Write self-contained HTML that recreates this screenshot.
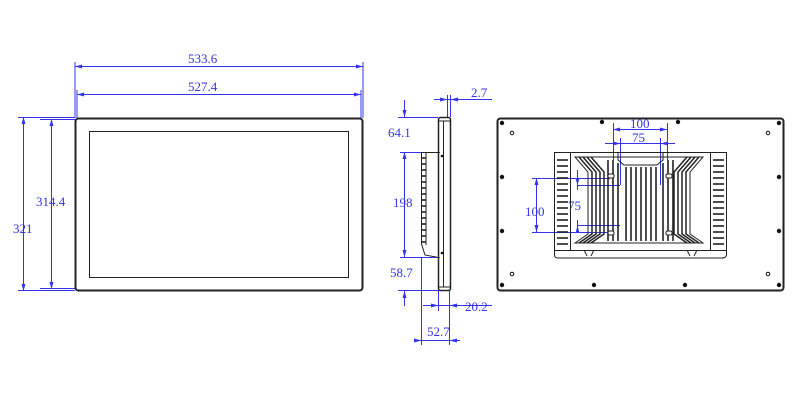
<!DOCTYPE html>
<html><head><style>
html,body{margin:0;padding:0;background:#fff;}
svg{display:block;}
text{font-family:"Liberation Serif",serif;font-size:13px;fill:#3333ee;}
</style></head><body>
<svg width="800" height="400" viewBox="0 0 800 400">
<g stroke="#3333ee" stroke-width="1" fill="none">
<line x1="75" y1="62" x2="75" y2="118"/><line x1="363" y1="62" x2="363" y2="118"/>
<line x1="77" y1="90" x2="77" y2="118"/><line x1="361" y1="90" x2="361" y2="118"/>
<line x1="75" y1="66.5" x2="363" y2="66.5"/>
<line x1="77" y1="94.5" x2="361" y2="94.5"/>
<line x1="18" y1="117.5" x2="75" y2="117.5"/><line x1="18" y1="290.5" x2="75" y2="290.5"/>
<line x1="40" y1="119.5" x2="75" y2="119.5"/><line x1="40" y1="288.5" x2="75" y2="288.5"/>
<line x1="23.5" y1="117" x2="23.5" y2="291"/>
<line x1="51.5" y1="119" x2="51.5" y2="289"/>
<line x1="447.5" y1="95" x2="447.5" y2="117"/><line x1="450.5" y1="95" x2="450.5" y2="117"/>
<line x1="434" y1="99.5" x2="492" y2="99.5"/>
<line x1="398" y1="117.5" x2="438" y2="117.5"/>
<line x1="404.5" y1="100" x2="404.5" y2="117"/>
<line x1="400" y1="152.5" x2="440" y2="152.5"/><line x1="400" y1="257.5" x2="440" y2="257.5"/>
<line x1="404.5" y1="152" x2="404.5" y2="257"/>
<line x1="398" y1="290.5" x2="438" y2="290.5"/>
<line x1="404.5" y1="291" x2="404.5" y2="306"/>
<line x1="438.5" y1="290" x2="438.5" y2="311"/><line x1="449.5" y1="290" x2="449.5" y2="345"/>
<line x1="421.5" y1="257" x2="421.5" y2="345"/>
<line x1="423" y1="305.5" x2="492" y2="305.5"/>
<line x1="415" y1="340.5" x2="460" y2="340.5"/>
<line x1="613.5" y1="123" x2="613.5" y2="160"/><line x1="667.5" y1="123" x2="667.5" y2="160"/>
<line x1="613" y1="129.5" x2="667" y2="129.5"/>
<line x1="605" y1="143.5" x2="675" y2="143.5"/>
<line x1="620.5" y1="138" x2="620.5" y2="185"/><line x1="660.5" y1="138" x2="660.5" y2="185"/>
<line x1="532" y1="178.5" x2="610" y2="178.5"/><line x1="532" y1="232.5" x2="610" y2="232.5"/>
<line x1="536.5" y1="178" x2="536.5" y2="232"/>
<line x1="577" y1="185.5" x2="620" y2="185.5"/><line x1="577" y1="225.5" x2="620" y2="225.5"/>
<line x1="577.5" y1="170" x2="577.5" y2="190"/><line x1="577.5" y1="220" x2="577.5" y2="232"/>
</g>
<g fill="#3333ee">
<polygon points="75,66.5 82,64.5 82,68.5"/><polygon points="363,66.5 356,64.5 356,68.5"/>
<polygon points="77,94.5 84,92.5 84,96.5"/><polygon points="361,94.5 354,92.5 354,96.5"/>
<polygon points="23.5,117 21.5,124 25.5,124"/><polygon points="23.5,291 21.5,284 25.5,284"/>
<polygon points="51.5,119 49.5,126 53.5,126"/><polygon points="51.5,289 49.5,282 53.5,282"/>
<polygon points="404.5,117 402.5,110 406.5,110"/><polygon points="404.5,291 402.5,298 406.5,298"/>
<polygon points="404.5,152 402.5,159 406.5,159"/><polygon points="404.5,257 402.5,250 406.5,250"/>
<polygon points="447.5,99.5 440,97.5 440,101.5"/><polygon points="450.5,99.5 458,97.5 458,101.5"/>
<polygon points="438.5,305.5 431,303.5 431,307.5"/><polygon points="449.5,305.5 457,303.5 457,307.5"/>
<polygon points="421.5,340.5 414,338.5 414,342.5"/><polygon points="449.5,340.5 457,338.5 457,342.5"/>
<polygon points="613,129.5 620,127.5 620,131.5"/><polygon points="667,129.5 660,127.5 660,131.5"/>
<polygon points="620.5,143.5 613,141.5 613,145.5"/><polygon points="660.5,143.5 668,141.5 668,145.5"/>
<polygon points="536.5,178 534.5,185 538.5,185"/><polygon points="536.5,232 534.5,225 538.5,225"/>
<polygon points="577.5,185.5 575.5,178 579.5,178"/><polygon points="577.5,225.5 575.5,233 579.5,233"/>
</g>
<text x="188" y="63">533.6</text>
<text x="188" y="91">527.4</text>
<text x="36" y="206">314.4</text>
<text x="13" y="233">321</text>
<text x="471" y="97">2.7</text>
<text x="388" y="137">64.1</text>
<text x="393" y="207">198</text>
<text x="390" y="277">58.7</text>
<text x="465" y="311">20.2</text>
<text x="427" y="336">52.7</text>
<text x="630" y="128">100</text>
<text x="632" y="142">75</text>
<text x="525" y="216">100</text>
<text x="568" y="210">75</text>
<g stroke="#222" fill="none">
<rect x="75.5" y="118.5" width="287" height="172" rx="3" stroke-width="2"/>
<rect x="89.5" y="131.5" width="259" height="146" stroke-width="1"/>
<rect x="438.5" y="117.5" width="12" height="173" rx="2" stroke-width="1.5"/>
<line x1="443.5" y1="121" x2="443.5" y2="287"/>
<line x1="438.5" y1="121" x2="450.5" y2="121"/><line x1="438.5" y1="287" x2="450.5" y2="287"/>
<path d="M438.5 152.5 H421.5 V244 L425 255 L438.5 257.5"/>
<line x1="426" y1="153" x2="426" y2="245"/>
<rect x="497.5" y="118.5" width="286" height="172" rx="3" stroke-width="2"/>
<path d="M554.5 152.5 H726.5 V255 Q726 258 722 258 H558 Q554.5 258 554.5 255 Z"/>
<line x1="570.5" y1="153" x2="570.5" y2="250"/><line x1="710.5" y1="153" x2="710.5" y2="250"/>
<line x1="555" y1="250.5" x2="726" y2="250.5"/>
<path d="M575 157 H703 L690 172 V234 L703 243 H575 L588 234 V172 Z"/>
<path d="M618 153 V160 L624 165 H657 L663 160 V153"/>
<path d="M584 250 L587 256 M594 250 L591 256 M687 250 L690 256 M697 250 L694 256"/>
</g>
<g stroke="#222" stroke-width="1.5" fill="none">
<path d="M579 157 L592 172 V234 L579 243"/><path d="M583 157 L596 172 V234 L583 243"/><path d="M587 157 L600 172 V234 L587 243"/><path d="M591 157 L604 172 V234 L591 243"/>
<path d="M699 157 L686 172 V234 L699 243"/><path d="M695 157 L682 172 V234 L695 243"/><path d="M691 157 L678 172 V234 L691 243"/><path d="M687 157 L674 172 V234 L687 243"/>
</g>
<g stroke="#222" stroke-width="1.6">
<line x1="557" y1="160" x2="568" y2="160"/><line x1="557" y1="166" x2="568" y2="166"/><line x1="557" y1="172" x2="568" y2="172"/><line x1="557" y1="178" x2="568" y2="178"/><line x1="557" y1="184" x2="568" y2="184"/><line x1="557" y1="190" x2="568" y2="190"/><line x1="557" y1="196" x2="568" y2="196"/><line x1="557" y1="202" x2="568" y2="202"/><line x1="557" y1="208" x2="568" y2="208"/><line x1="557" y1="214" x2="568" y2="214"/><line x1="557" y1="220" x2="568" y2="220"/><line x1="557" y1="226" x2="568" y2="226"/><line x1="557" y1="232" x2="568" y2="232"/><line x1="557" y1="238" x2="568" y2="238"/><line x1="557" y1="244" x2="568" y2="244"/>
<line x1="713" y1="160" x2="724" y2="160"/><line x1="713" y1="166" x2="724" y2="166"/><line x1="713" y1="172" x2="724" y2="172"/><line x1="713" y1="178" x2="724" y2="178"/><line x1="713" y1="184" x2="724" y2="184"/><line x1="713" y1="190" x2="724" y2="190"/><line x1="713" y1="196" x2="724" y2="196"/><line x1="713" y1="202" x2="724" y2="202"/><line x1="713" y1="208" x2="724" y2="208"/><line x1="713" y1="214" x2="724" y2="214"/><line x1="713" y1="220" x2="724" y2="220"/><line x1="713" y1="226" x2="724" y2="226"/><line x1="713" y1="232" x2="724" y2="232"/><line x1="713" y1="238" x2="724" y2="238"/><line x1="713" y1="244" x2="724" y2="244"/>
<line x1="608" y1="160" x2="608" y2="241"/><line x1="613" y1="160" x2="613" y2="241"/><line x1="618" y1="163" x2="618" y2="241"/><line x1="626" y1="167" x2="626" y2="241"/><line x1="631" y1="167" x2="631" y2="241"/><line x1="636" y1="167" x2="636" y2="241"/><line x1="641" y1="167" x2="641" y2="241"/><line x1="646" y1="167" x2="646" y2="241"/><line x1="651" y1="167" x2="651" y2="241"/><line x1="656" y1="167" x2="656" y2="241"/><line x1="663" y1="163" x2="663" y2="241"/><line x1="668" y1="160" x2="668" y2="241"/><line x1="673" y1="160" x2="673" y2="241"/>
<line x1="422" y1="158" x2="426" y2="158"/><line x1="422" y1="164" x2="426" y2="164"/><line x1="422" y1="170" x2="426" y2="170"/><line x1="422" y1="176" x2="426" y2="176"/><line x1="422" y1="182" x2="426" y2="182"/><line x1="422" y1="188" x2="426" y2="188"/><line x1="422" y1="194" x2="426" y2="194"/><line x1="422" y1="200" x2="426" y2="200"/><line x1="422" y1="206" x2="426" y2="206"/><line x1="422" y1="212" x2="426" y2="212"/><line x1="422" y1="218" x2="426" y2="218"/><line x1="422" y1="224" x2="426" y2="224"/><line x1="422" y1="230" x2="426" y2="230"/><line x1="422" y1="236" x2="426" y2="236"/><line x1="422" y1="242" x2="426" y2="242"/>
</g>
<g fill="#fff" stroke="#222">
<rect x="608" y="174" width="6" height="4" rx="1.5"/><rect x="666" y="174" width="6" height="4" rx="1.5"/>
<rect x="608" y="231" width="6" height="4" rx="1.5"/><rect x="666" y="231" width="6" height="4" rx="1.5"/>
</g>
<g fill="#111">
<circle cx="502" cy="123" r="2.2"/><circle cx="602" cy="122" r="2.2"/><circle cx="678" cy="122" r="2.2"/><circle cx="779" cy="123" r="2.2"/>
<circle cx="502" cy="177" r="2.2"/><circle cx="779" cy="177" r="2.2"/><circle cx="502" cy="231" r="2.2"/><circle cx="779" cy="231" r="2.2"/>
<circle cx="502" cy="285" r="2.2"/><circle cx="594" cy="285" r="2.2"/><circle cx="685" cy="285" r="2.2"/><circle cx="779" cy="285" r="2.2"/>
<circle cx="442" cy="156" r="1.3"/><circle cx="442" cy="253" r="1.3"/>
</g>
<g fill="none" stroke="#111">
<circle cx="512" cy="133" r="1.8"/><circle cx="768" cy="133" r="1.8"/><circle cx="512" cy="274" r="1.8"/><circle cx="768" cy="274" r="1.8"/>
</g>
</svg>
</body></html>
